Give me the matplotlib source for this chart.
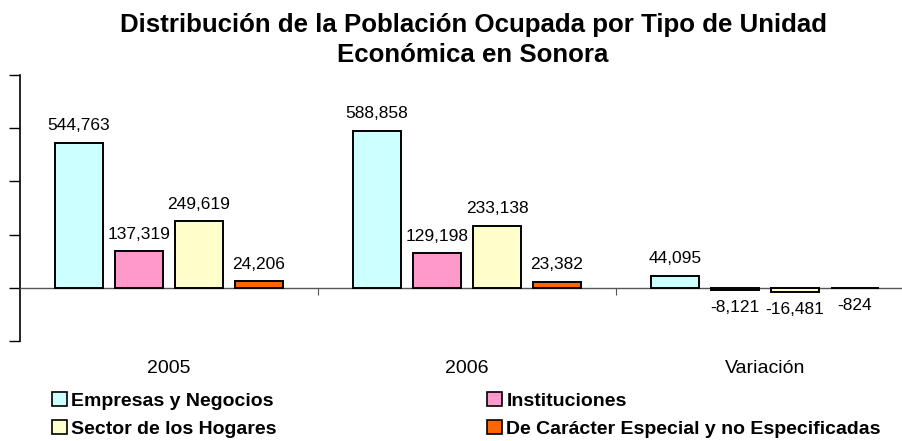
import matplotlib

matplotlib.use("Agg")
import matplotlib.pyplot as plt
import numpy as np
from matplotlib.patches import Patch

plt.rcParams["font.family"] = ["Liberation Sans", "DejaVu Sans"]

# Data
categories = ["2005", "2006", "Variación"]
series_names = [
    "Empresas y Negocios",
    "Instituciones",
    "Sector de los Hogares",
    "De Carácter Especial y no Especificadas",
]
empresas = [544763, 588858, 44095]
instituciones = [137319, 129198, -8121]
hogares = [249619, 233138, -16481]
especial = [24206, 23382, -824]

colors = ["#CCFFFF", "#FF99CC", "#FFFFCC", "#FF6600"]
title = "Distribución de la Población Ocupada por Tipo de Unidad\nEconómica en Sonora"

W, H = 902, 441
fig = plt.figure(figsize=(W / 100, H / 100), dpi=100)
ax = fig.add_axes([20 / W, (H - 341) / H, 894 / W, 266 / H])

x = np.arange(len(categories))
step = 0.2013
width = 0.158
series = [empresas, instituciones, hogares, especial]
for i, (vals, col) in enumerate(zip(series, colors)):
    b = ax.bar(x + (i - 1.5) * step, vals, width, color=col,
               edgecolor="black", linewidth=1.4, zorder=3)
    ax.bar_label(b, labels=[f"{v:,}" for v in vals], padding=7, fontsize=12.5)

ax.set_xlim(-0.5, len(categories) - 0.5)
ax.set_ylim(-200000, 800000)
ax.set_yticks(np.arange(-200000, 800001, 200000))
ax.set_yticklabels([])
ax.tick_params(axis="y", direction="out", length=8, width=1, color="black")

# category axis crosses at zero
for s in ("top", "right"):
    ax.spines[s].set_visible(False)
ax.spines["bottom"].set_position(("data", 0))
ax.spines["bottom"].set_color("#555555")
ax.spines["bottom"].set_linewidth(1)
ax.spines["left"].set_linewidth(1.2)
ax.set_xticks(x[:-1] + 0.5)
ax.set_xticklabels([])
ax.tick_params(axis="x", direction="out", length=5, color="#555555")

for xi, cat in zip(x, categories):
    ax.text(xi, -0.105, cat, transform=ax.get_xaxis_transform(),
            ha="center", va="center", fontsize=14)

fig.text(473 / W, 1 - 40 / H, title, ha="center", va="center",
         fontsize=18.6, fontweight="bold", linespacing=1.32)

handles = [Patch(facecolor=c, edgecolor="black", linewidth=1.2) for c in colors]
order = [0, 2, 1, 3]
fig.legend([handles[i] for i in order], [series_names[i] for i in order],
           ncol=2, loc="upper left", bbox_to_anchor=(52 / W, 1 - 392 / H),
           frameon=False, prop={"weight": "bold", "size": 14},
           handlelength=0.75, handleheight=0.75, handletextpad=0.25,
           columnspacing=10.8, labelspacing=0.5, borderpad=0, borderaxespad=0)

fig.savefig("out.png", dpi=100)
